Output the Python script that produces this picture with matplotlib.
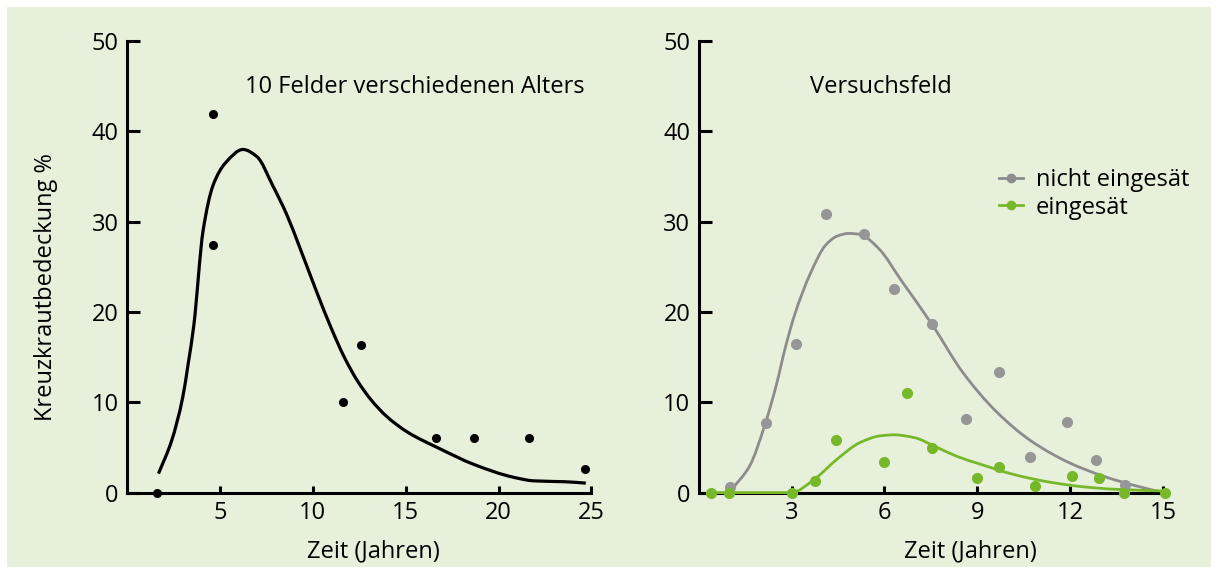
import matplotlib
matplotlib.use("Agg")
import numpy as np
import matplotlib.pyplot as plt
from matplotlib.lines import Line2D
from matplotlib.patches import Rectangle, PathPatch
from matplotlib.path import Path

plt.rcParams['font.family'] = ['Open Sans', 'DejaVu Sans']

# ---------------- data ----------------
# left panel: 10 fields of different age
left_pts_x = [1.6, 4.65, 4.65, 11.65, 12.6, 16.65, 18.7, 21.65, 24.65]
left_pts_y = [0.0, 41.9, 27.4, 10.0, 16.4, 6.0, 6.0, 6.0, 2.6]
left_curve_x = [1.7, 2.4, 3.0, 3.3, 3.6, 4.1, 4.65, 5.3, 6.25, 7.0, 7.85, 8.6,
                9.33, 10.2, 11.0, 11.7, 12.4, 13.17, 14.0, 15.1, 16.8, 18.7,
                20.8, 21.9, 23.6, 24.7]
left_curve_y = [2.1, 5.7, 10.5, 14.3, 18.5, 29.0, 34.1, 36.5, 38.0, 37.2, 34.0,
                30.8, 27.0, 22.3, 18.2, 15.0, 12.4, 10.2, 8.4, 6.7, 4.9, 3.1,
                1.7, 1.3, 1.2, 1.05]

# right panel: experimental field
grey_pts_x = [1.0, 2.17, 3.15, 4.1, 5.33, 6.31, 7.52, 8.62, 9.7, 10.7, 11.9, 12.82, 13.75]
grey_pts_y = [0.6, 7.7, 16.5, 30.8, 28.6, 22.6, 18.7, 8.1, 13.4, 3.9, 7.8, 3.6, 0.85]
grey_curve_x = [1.08, 1.64, 2.13, 2.5, 2.81, 3.11, 3.6, 4.1, 4.47, 4.84, 5.21,
                5.82, 6.56, 7.54, 8.53, 9.63, 10.74, 11.97, 13.08, 14.06, 15.0]
grey_curve_y = [0.4, 2.9, 7.4, 11.8, 16.2, 19.8, 24.2, 27.4, 28.4, 28.7, 28.6,
                27.0, 23.4, 18.6, 13.3, 8.9, 5.7, 3.3, 1.8, 0.8, 0.0]

green_pts_x = [0.39, 0.99, 3.01, 3.77, 4.45, 6.0, 6.72, 7.53, 9.0, 9.7, 10.85,
               12.05, 12.94, 13.72, 15.04]
green_pts_y = [0.0, 0.0, 0.0, 1.29, 5.85, 3.44, 11.0, 4.89, 1.63, 2.89, 0.74,
               1.85, 1.67, 0.0, 0.0]
green_curve_x = [0.39, 3.0, 3.71, 4.47, 5.22, 5.87, 6.3, 6.95, 7.7, 8.35, 9.1,
                 10.18, 11.26, 12.34, 13.42, 15.03]
green_curve_y = [0.0, 0.0, 1.4, 3.7, 5.56, 6.29, 6.4, 6.1, 5.0, 4.0, 3.14, 2.0,
                 1.2, 0.67, 0.37, 0.18]

left_xticks = [5, 10, 15, 20, 25]
right_xticks = [3, 6, 9, 12, 15]
yticks = [0, 10, 20, 30, 40, 50]

legend_labels = ['nicht eingesät', 'eingesät']
title_left = '10 Felder verschiedenen Alters'
title_right = 'Versuchsfeld'
xlabel = 'Zeit (Jahren)'
ylabel = 'Kreuzkrautbedeckung %'

GREY_LINE = '#8c8c8c'
GREY_PT = '#969696'
GREEN = '#76b82a'
BG = '#e7f0da'
FS = 17

W, H = 1216, 567
fig = plt.figure(figsize=(W / 100, H / 100), dpi=100)
fig.patch.set_facecolor('white')
fig.patches.append(Rectangle((7 / W, 0), (1211 - 7) / W, (H - 7) / H,
                             transform=fig.transFigure, facecolor=BG,
                             edgecolor='none', zorder=-10))


def px_axes(x0, x1, y0=492.6, y1=41.1):
    return fig.add_axes([x0 / W, (H - y0) / H, (x1 - x0) / W, (y0 - y1) / H])


def smooth_line(ax, xs, ys, **kw):
    """Draw the read curve points as a smooth Bezier path in data coords."""
    x = np.asarray(xs, float)
    y = np.asarray(ys, float)
    h = np.diff(x)
    d = np.diff(y) / h
    n = len(x)
    m = np.zeros(n)
    for i in range(1, n - 1):
        if d[i - 1] * d[i] > 0:
            w1 = 2 * h[i] + h[i - 1]
            w2 = h[i] + 2 * h[i - 1]
            m[i] = (w1 + w2) / (w1 / d[i - 1] + w2 / d[i])
    m[0] = d[0]
    m[-1] = d[-1]
    verts = [(x[0], y[0])]
    codes = [Path.MOVETO]
    for i in range(n - 1):
        verts += [(x[i] + h[i] / 3, y[i] + m[i] * h[i] / 3),
                  (x[i + 1] - h[i] / 3, y[i + 1] - m[i + 1] * h[i] / 3),
                  (x[i + 1], y[i + 1])]
        codes += [Path.CURVE4] * 3
    patch = PathPatch(Path(verts, codes), facecolor='none', clip_on=False,
                      transform=ax.transData, **kw)
    ax.add_patch(patch)


axL = px_axes(126.9, 591.4)
axR = px_axes(698.6, 1163.3)

for ax, xmax, xt in [(axL, 25, left_xticks), (axR, 15, right_xticks)]:
    ax.set_facecolor('none')
    ax.set_xlim(0, xmax)
    ax.set_ylim(0, 50)
    for s in ['top', 'right']:
        ax.spines[s].set_visible(False)
    for s in ['left', 'bottom']:
        ax.spines[s].set_linewidth(2.2)
        ax.spines[s].set_color('black')
    ax.set_xticks(xt)
    ax.set_yticks(yticks)
    ax.tick_params(axis='y', direction='in', length=9.5, width=2.2, pad=6,
                   labelsize=FS)
    ax.tick_params(axis='x', direction='in', length=5, width=2.2, pad=6,
                   labelsize=FS)
    ax.set_xlabel(xlabel, fontsize=FS)

axL.xaxis.set_label_coords(0.53, -0.103)
axR.xaxis.set_label_coords(0.584, -0.103)
axL.set_ylabel(ylabel, fontsize=FS)
axL.yaxis.set_label_coords(-0.148, 0.455)

# left panel
smooth_line(axL, left_curve_x, left_curve_y, edgecolor='black', lw=2.3,
            capstyle='butt')
axL.plot(left_pts_x, left_pts_y, 'o', color='black', ms=5.5, clip_on=False,
         zorder=5)
axL.text(6.36, 44.9, title_left, fontsize=FS, ha='left', va='center')

# right panel
smooth_line(axR, grey_curve_x, grey_curve_y, edgecolor=GREY_LINE, lw=2.0,
            zorder=2)
axR.plot(grey_pts_x, grey_pts_y, 'o', color=GREY_PT, ms=8, mew=0,
         clip_on=False, zorder=4)
smooth_line(axR, green_curve_x, green_curve_y, edgecolor=GREEN, lw=2.0,
            zorder=3)
axR.plot(green_pts_x, green_pts_y, 'o', color=GREEN, ms=8, mew=0,
         clip_on=False, zorder=5)
axR.text(3.6, 44.9, title_right, fontsize=FS, ha='left', va='center')

handles = [Line2D([], [], color=GREY_LINE, lw=2.0, marker='o', ms=7, mew=0),
           Line2D([], [], color=GREEN, lw=2.0, marker='o', ms=7, mew=0)]
fig.legend(handles, legend_labels, loc='upper left',
           bbox_to_anchor=(999 / W, 1 - 168 / H), bbox_transform=fig.transFigure,
           frameon=False, fontsize=FS, handlelength=1.0, handletextpad=0.55,
           labelspacing=0.15, borderpad=0, borderaxespad=0)

fig.savefig('out.png', dpi=100, facecolor=fig.get_facecolor())
